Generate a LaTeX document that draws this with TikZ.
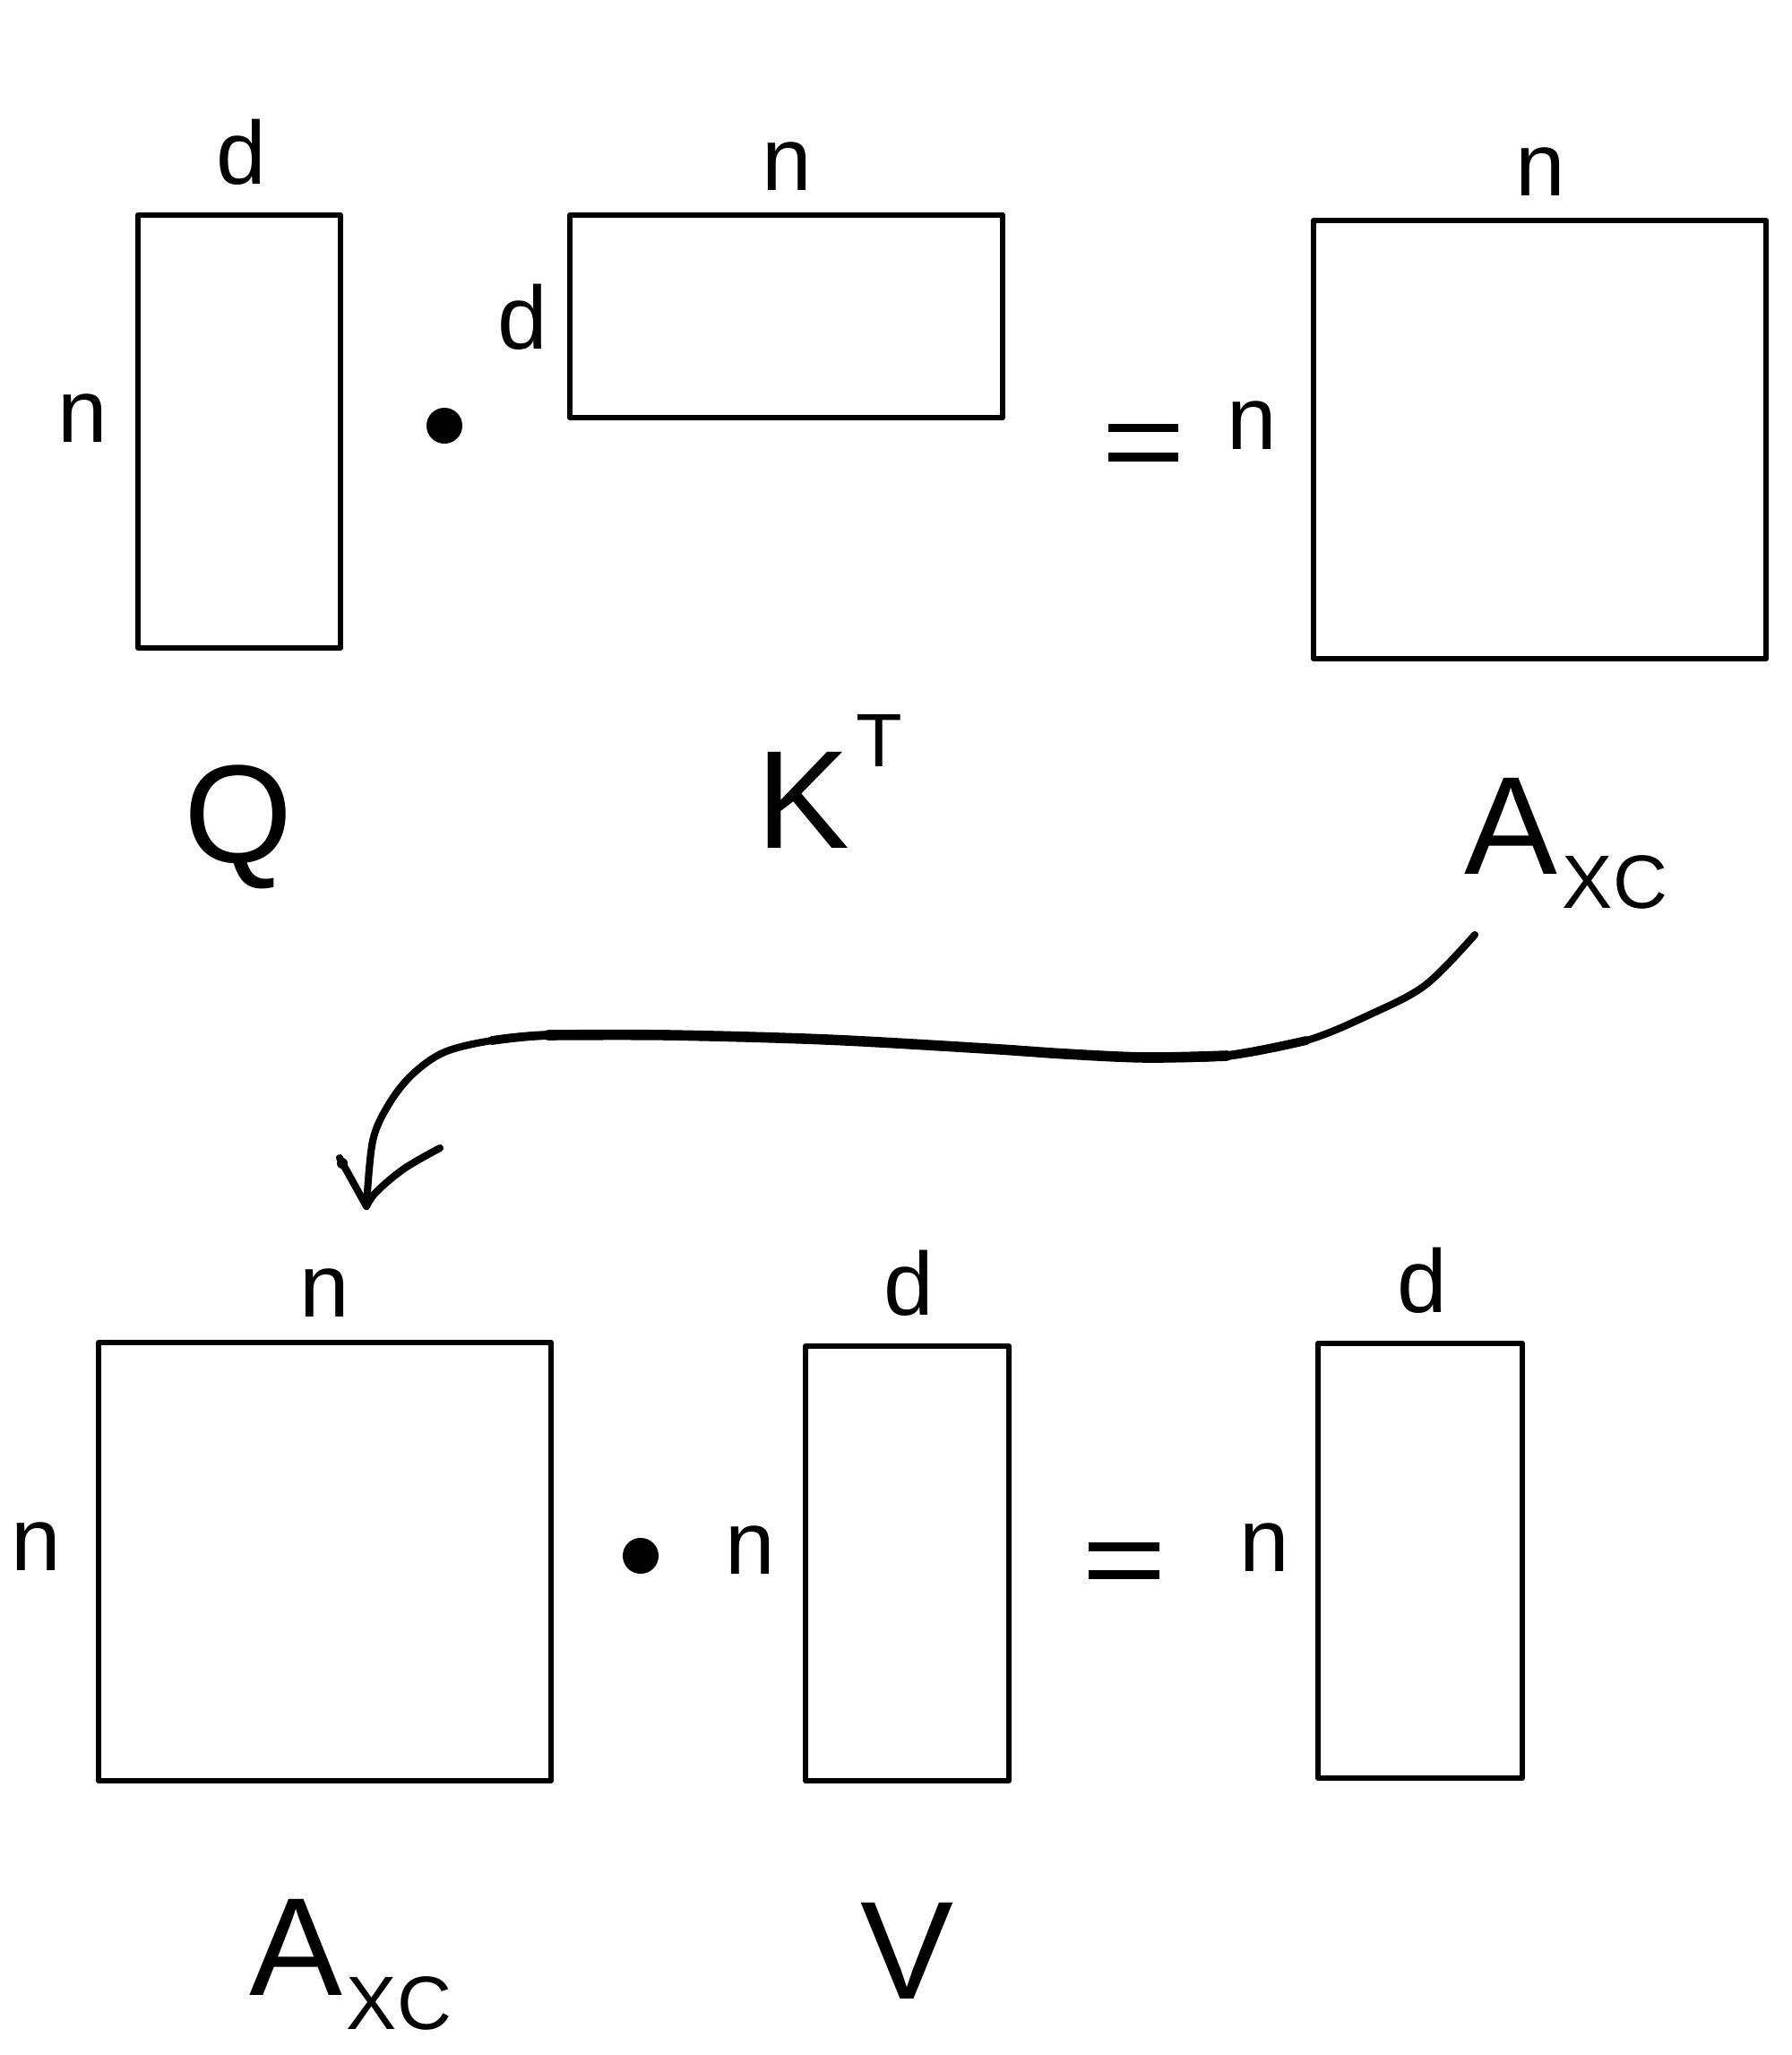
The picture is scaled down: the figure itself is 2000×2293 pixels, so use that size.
\documentclass[tikz,border=0pt]{standalone}
\usepackage{fontspec}
\setmainfont{Liberation Sans}
\newcommand\dimfont{\fontsize{28.4pt}{32pt}\selectfont}
\newcommand\namefont{\fontsize{44.3pt}{50pt}\selectfont}
\newcommand\subfont{\fontsize{24pt}{28pt}\selectfont}
\begin{document}
\begin{tikzpicture}[x=0.01cm,y=-0.01cm,
  matbox/.style={draw, line width=1.6pt, inner sep=0pt, line join=round},
  dimlabel/.style={font=\dimfont, inner sep=0pt, anchor=base},
  namelabel/.style={font=\namefont, inner sep=0pt, anchor=base},
  sublabel/.style={font=\subfont, inner sep=0pt, anchor=base west},
  opdot/.style={circle, fill=black, inner sep=0pt, minimum size=0.4cm},
  eqbar/.style={fill=black, inner sep=0pt, minimum width=0.785cm, minimum height=0.097cm},
  arrowline/.style={line width=2.3pt, line cap=round, line join=round},
  arrowmid/.style={line width=2.8pt, line cap=round, line join=round},
  arrowthick/.style={line width=3.3pt, line cap=round, line join=round}]
\path[fill=white] (0,0) rectangle (2000,2293);

% ---------- top row ----------
\node[matbox, minimum width=2.26cm, minimum height=4.83cm] (Q) at (267,481.5) {};
\node[matbox, minimum width=4.83cm, minimum height=2.26cm] (KT) at (877.5,353) {};
\node[matbox, minimum width=5.05cm, minimum height=4.89cm] (A1) at (1718.5,490.5) {};

\node[dimlabel] (Qd) at (269.5,205) {d};
\node[dimlabel] (Qn) at (92,493) {n};
\node[dimlabel] (Kd) at (583.5,389) {d};
\node[dimlabel] (Kn) at (878.5,212) {n};
\node[dimlabel] (A1n) at (1397,501) {n};
\node[dimlabel] (A1top) at (1719,218) {n};

\node[opdot] (dot1) at (496,475) {};
\node[eqbar] (eq1a) at (1276,477.5) {};
\node[eqbar] (eq1b) at (1276,510) {};

\node[namelabel] (Qname) at (266,962) {Q};
\node[namelabel] (Kname) at (896,946) {K};
\node[font=\subfont, inner sep=0pt, anchor=base] (Tsup) at (981,855) {T};
\node[namelabel] (A1name) at (1686.5,975) {A};
\node[sublabel] (A1sub) at (1743,1013) {XC};

% ---------- arrow ----------
\coordinate (arrowstart) at (1646,1043);
\coordinate (arrowtip) at (409,1346);
\draw[arrowline] plot[smooth, tension=0.55] coordinates {
  (arrowstart) (1591,1099) (1529,1132) (1458,1161) (1369,1178) (1280,1180)
  (1190,1176) (1101,1170) (923,1160) (745,1155) (612,1155) (549,1161)
  (496,1174) (460,1199) (434,1232) (416,1273) (arrowtip)};
\draw[arrowmid] plot[smooth, tension=0.55] coordinates {
  (1458,1161) (1369,1178) (1280,1180)
  (1190,1176) (1101,1170) (923,1160) (745,1155) (612,1155) (549,1161)};
\draw[arrowthick] plot[smooth, tension=0.55] coordinates {
  (1369,1178) (1280,1180)
  (1190,1176) (1101,1170) (923,1160) (745,1155) (612,1155)};
\coordinate (barbL) at (379,1292);
\coordinate (barbR) at (491,1281);
\draw[arrowline] (barbL) -- (arrowtip);
\fill (382,1298) circle (0.06cm);
\draw[arrowline] plot[smooth, tension=0.6] coordinates {
  (barbR) (451,1304) (420,1330) (arrowtip)};

% ---------- bottom row ----------
\node[matbox, minimum width=5.05cm, minimum height=4.89cm] (A2) at (362.5,1742.5) {};
\node[matbox, minimum width=2.27cm, minimum height=4.85cm] (V) at (1012.5,1744.5) {};
\node[matbox, minimum width=2.28cm, minimum height=4.85cm] (R) at (1585,1741.5) {};

\node[dimlabel] (A2top) at (362,1469) {n};
\node[dimlabel] (A2n) at (40.5,1752) {n};
\node[dimlabel] (Vn) at (837.5,1756) {n};
\node[dimlabel] (Vd) at (1014.5,1467) {d};
\node[dimlabel] (Rn) at (1411,1753) {n};
\node[dimlabel] (Rd) at (1587,1464) {d};

\node[opdot] (dot2) at (715,1736) {};
\node[eqbar] (eq2a) at (1254.5,1726) {};
\node[eqbar] (eq2b) at (1254.5,1757) {};

\node[namelabel] (A2name) at (330,2226) {A};
\node[sublabel] (A2sub) at (386,2264) {XC};
\node[namelabel] (Vname) at (1012.5,2230) {V};
\end{tikzpicture}
\end{document}
